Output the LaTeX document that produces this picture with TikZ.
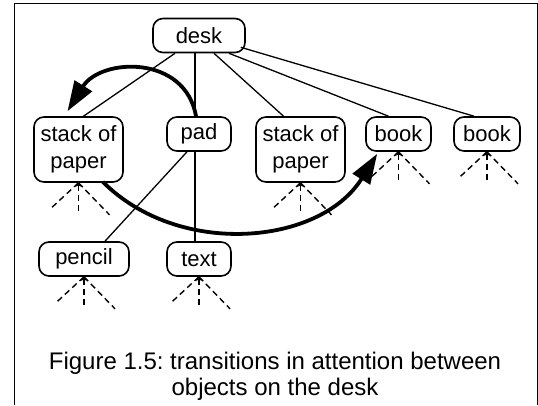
\documentclass[tikz,border=0pt]{standalone}
\usepackage{fontspec}
\setmainfont{Liberation Sans}
\usetikzlibrary{arrows.meta}
\frenchspacing

\begin{document}
\begin{tikzpicture}[x=1pt,y=1pt]
\useasboundingbox (0,0) rectangle (538,405);
\draw[line width=1pt] (14,0) -- (14,401) -- (537,401) -- (537,0);
\tikzstyle{every node}=[draw,shape=rectangle,rounded corners=10pt,line width=1.6pt,inner sep=0pt,minimum height=34pt,align=center,font=\fontsize{22}{27}\selectfont];
\node[minimum width=92pt] (desk) at (199,369.5) {desk};
\node[minimum width=89pt,minimum height=65pt] (stack1) at (78.5,255.5) {stack of\\paper};
\node[minimum width=64pt] (pad) at (199,271) {pad};
\node[minimum width=89pt,minimum height=65pt] (stack2) at (300.5,255.5) {stack of\\paper};
\node[minimum width=65pt] (book1) at (398.5,271) {book};
\node[minimum width=66pt] (book2) at (487,271) {book};
\node[minimum width=90pt] (pencil) at (84,146) {pencil};
\node[minimum width=64pt] (text) at (199,146) {text};
\tikzstyle{every node}=[];
\tikzstyle{link}=[line width=1.3pt];
\tikzstyle{attmove}=[line width=3.8pt,-{Triangle[length=30pt,width=20pt]}];
\draw[link] ([xshift=-24pt]desk.south) -- ([xshift=5pt]stack1.north);
\draw[link] ([xshift=-4pt]desk.south) -- ([xshift=-4pt]pad.north);
\draw[link] ([xshift=15pt]desk.south) -- ([xshift=-17pt]stack2.north);
\draw[link] ([xshift=30pt]desk.south) -- ([xshift=-10pt]book1.north);
\draw[link] ([xshift=-5pt,yshift=6pt]desk.south east) -- ([xshift=-13pt]book2.north);
\draw[link] ([xshift=-12pt]pad.south) -- ([xshift=21pt]pencil.north);
\draw[link] ([xshift=-4pt]pad.south) -- ([xshift=-4pt]text.north);
% attention moves
\draw[attmove] ([xshift=-3pt]pad.north) to[out=100,in=58,looseness=1.25] ([xshift=-11pt,yshift=5pt]stack1.north);
\draw[attmove] ([xshift=-21pt,yshift=1pt]stack1.south east) to[out=-45,in=238,looseness=1.0] ([xshift=12pt,yshift=-2pt]book1.south west);
% unexplored parts
\foreach \n in {stack1,stack2,book1,book2,pencil,text} {
  \draw[line width=1.4pt,dash pattern=on 6pt off 4pt] (\n.south) -- ++(-27,-25);
  \draw[line width=1.8pt,dash pattern=on 6pt off 4pt,{Stealth[length=4pt,width=6pt]}-] (\n.south) -- ++(0,-28);
  \draw[line width=1.4pt,dash pattern=on 6pt off 4pt] (\n.south) -- ++(31,-32);
}
\node[align=center,font=\fontsize{24}{26}\selectfont] (caption) at (275,28.5) {Figure 1.5: transitions in attention between\\objects on the desk};
\end{tikzpicture}
\end{document}
